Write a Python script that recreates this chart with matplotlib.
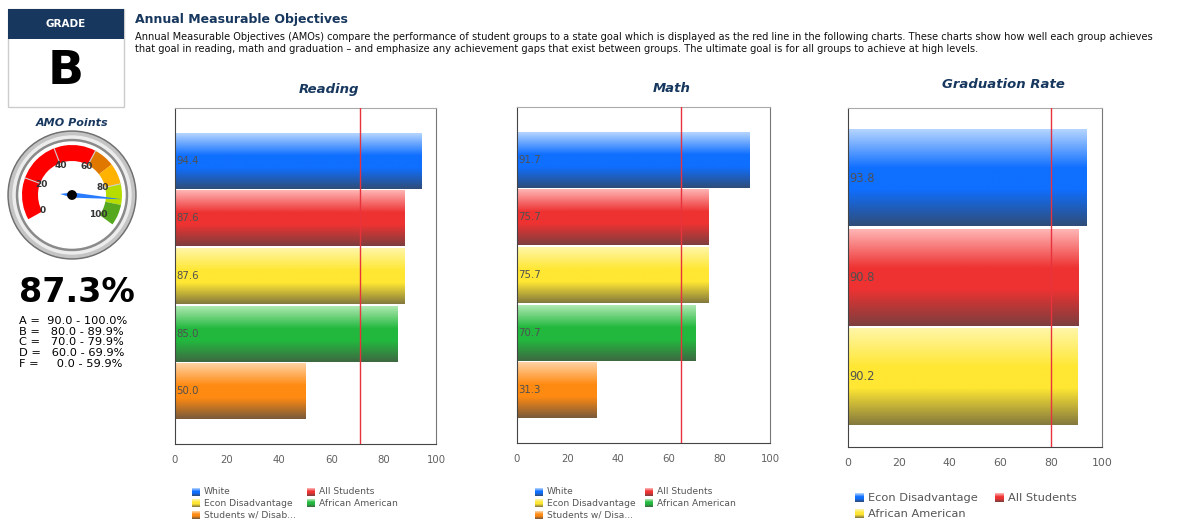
import matplotlib.pyplot as plt
import numpy as np
from matplotlib.patches import Rectangle, Circle, Wedge, Polygon
from matplotlib.colors import to_rgb

W, H = 1185, 521

# ---- data ----
reading_groups = ["White", "All Students", "Econ Disadvantage", "African American", "Students w/ Disab..."]
reading_values = [94.4, 87.6, 87.6, 85.0, 50.0]
reading_goal = 71

math_groups = ["White", "All Students", "Econ Disadvantage", "African American", "Students w/ Disa..."]
math_values = [91.7, 75.7, 75.7, 70.7, 31.3]
math_goal = 65

grad_groups = ["Econ Disadvantage", "All Students", "African American"]
grad_values = [93.8, 90.8, 90.2]
grad_goal = 80

x_ticks = [0, 20, 40, 60, 80, 100]

grade = "B"
amo_points = 87.3
grade_scale = ["A =  90.0 - 100.0%",
               "B =   80.0 - 89.9%",
               "C =   70.0 - 79.9%",
               "D =   60.0 - 69.9%",
               "F =     0.0 - 59.9%"]
gauge_bands = [0, 60, 70, 80, 90, 100]
gauge_band_colors = ["#ff0000", "#e07800", "#ffb300", "#b6dc00", "#56a81e"]
gauge_ticks = [0, 20, 40, 60, 80, 100]

# series colours (light top, base, dark bottom)
palette = [("#b4d4ff", "#0f6fff", "#2f4d7a"),
           ("#ffb4b4", "#ee3232", "#7e3e3e"),
           ("#fff6a6", "#ffe733", "#857a3e"),
           ("#aee8b0", "#22b83e", "#3e6a42"),
           ("#ffd2a2", "#ff8a12", "#7a5a3a")]

navy = "#17375e"
plt.rcParams['font.family'] = ['DejaVu Sans']

fig = plt.figure(figsize=(W / 100, H / 100), dpi=100)

# overlay axes in pixel units (y down)
bg = fig.add_axes([0, 0, 1, 1])
bg.set_xlim(0, W)
bg.set_ylim(H, 0)
bg.axis('off')


def px_axes(l, t, r, b):
    return fig.add_axes([l / W, 1 - b / H, (r - l) / W, (b - t) / H])


def gradient(light, base, dark, n=64):
    stops = [0.0, 0.4, 0.62, 1.0]
    cols = [to_rgb(light), to_rgb(base), to_rgb(base), to_rgb(dark)]
    t = np.linspace(0, 1, n)
    g = np.zeros((n, 1, 3))
    for k in range(3):
        g[:, 0, k] = np.interp(t, stops, [c[k] for c in cols])
    return g


def bar_chart(box, values, goal, pad, lab_size, tick_size):
    ax = px_axes(*box)
    n = len(values)
    pos = np.arange(n)[::-1]
    bars = ax.barh(pos, values, height=0.97, color=[p[1] for p in palette[:n]], linewidth=0)
    for bar, p, v in zip(bars, palette, values):
        x0, y0 = bar.get_x(), bar.get_y()
        w, h = bar.get_width(), bar.get_height()
        ax.imshow(gradient(*p), extent=[x0, x0 + w, y0, y0 + h], aspect='auto',
                  origin='upper', zorder=2)
        ax.text(0.6, y0 + h / 2, f"{v:.1f}", fontsize=lab_size, color="#505050",
                va='center', ha='left', zorder=3)
    ax.axvline(goal, color="#e8323c", lw=1, zorder=4)
    ax.set_xlim(0, 100)
    ax.set_ylim(-0.5 - pad, n - 0.5 + pad)
    ax.set_xticks(x_ticks)
    ax.set_yticks([])
    ax.tick_params(axis='x', length=0, pad=8, labelsize=tick_size, labelcolor="#606060")
    ax.spines['left'].set_color("#444444")
    ax.spines['bottom'].set_color("#444444")
    ax.spines['right'].set_color("#777777")
    ax.spines['top'].set_color("#aaaaaa")
    return ax


bar_chart((174.5, 108, 436, 444), reading_values, reading_goal, 0.41, 7.3, 7.3)
bar_chart((517, 107, 770, 443), math_values, math_goal, 0.41, 7.3, 7.3)
bar_chart((848, 108, 1102, 447), grad_values, grad_goal, 0.21, 8.3, 7.8)

bg.text(329, 89, "Reading", fontsize=9.5, fontweight='bold', fontstyle='italic', color=navy,
        ha='center', va='center')
bg.text(672, 89, "Math", fontsize=9.5, fontweight='bold', fontstyle='italic', color=navy,
        ha='center', va='center')
bg.text(1003, 85, "Graduation Rate", fontsize=9.5, fontweight='bold', fontstyle='italic', color=navy,
        ha='center', va='center')


def legend(groups, x1, x2, rows, sq, size):
    for i, g in enumerate(groups):
        x = x1 if i % 2 == 0 else x2
        y = rows[i // 2]
        light, base, dark = palette[i]
        bg.imshow(gradient(light, base, dark, 16), extent=[x, x + sq, y + sq / 2, y - sq / 2],
                  aspect='auto', origin='upper', zorder=3)
        bg.text(x + sq + 4, y, g, fontsize=size, color="#555555", va='center', ha='left')


legend(reading_groups, 192, 307, [492, 503.5, 515], 8, 6.6)
legend(math_groups, 535, 645, [492, 503.5, 515], 8, 6.6)
legend(grad_groups, 855, 995, [498, 514], 9, 8.2)

# ---- header text ----
bg.text(135, 19, "Annual Measurable Objectives", fontsize=9, fontweight='bold', color=navy,
        va='center', ha='left')
bg.text(135, 37, "Annual Measurable Objectives (AMOs) compare the performance of student groups to a state goal "
        "which is displayed as the red line in the following charts. These charts show how well each group achieves",
        fontsize=7.15, color="#111111", va='center', ha='left')
bg.text(135, 49, "that goal in reading, math and graduation \u2013 and emphasize any achievement gaps that exist "
        "between groups. The ultimate goal is for all groups to achieve at high levels.",
        fontsize=7.15, color="#111111", va='center', ha='left')

# ---- grade box ----
bg.add_patch(Rectangle((8, 9), 116, 98, facecolor='white', edgecolor="#cccccc", lw=1))
bg.add_patch(Rectangle((8, 9), 116, 30, facecolor=navy, edgecolor='none'))
bg.text(66, 24, "GRADE", fontsize=7.5, fontweight='bold', color='white', ha='center', va='center')
bg.text(66, 71, grade, fontsize=34, fontweight='heavy', color='black', ha='center', va='center')

bg.text(72, 123, "AMO Points", fontsize=8, fontweight='bold', fontstyle='italic', color=navy,
        ha='center', va='center')

bg.text(77, 292, f"{amo_points:.1f}%", fontsize=24, fontweight='bold', color='black',
        ha='center', va='center')
for i, line in enumerate(grade_scale):
    bg.text(19, 321 + i * 10.7, line, fontsize=8.2, color='black', ha='left', va='center')

# ---- gauge ----
ga = px_axes(7, 130, 137, 260)
ga.set_xlim(-65, 65)
ga.set_ylim(-65, 65)
ga.axis('off')


def ang(v):
    return 209 - 2.45 * v


ga.add_patch(Circle((0, 0), 64, color="#707070"))
ga.add_patch(Circle((0, 0), 62.5, color="#c4c4c4"))
ga.add_patch(Circle((0, 0), 59, color="#ececec"))
ga.add_patch(Circle((0, 0), 55.5, color="#8a8a8a"))
ga.add_patch(Circle((0, 0), 53, color="white"))
for v1, v2, c in zip(gauge_bands[:-1], gauge_bands[1:], gauge_band_colors):
    ga.add_patch(Wedge((0, 0), 50, ang(v2), ang(v1), width=16, color=c, lw=0))
for v in gauge_ticks[1:-1]:
    a = np.radians(ang(v))
    ga.plot([34 * np.cos(a), 50 * np.cos(a)], [34 * np.sin(a), 50 * np.sin(a)], color="#d0d0d0", lw=0.8)
for v in gauge_ticks:
    a = np.radians(ang(v))
    r = 33 if v in (0, 100) else 32
    ga.text(r * np.cos(a), r * np.sin(a), str(v), fontsize=6.5, fontweight='bold', color="#333333",
            ha='center', va='center')
a = np.radians(ang(amo_points))
u = np.array([np.cos(a), np.sin(a)])
nrm = np.array([-u[1], u[0]])
ga.add_patch(Polygon([u * 50, nrm * 2.6, -u * 12, -nrm * 2.6], closed=True, color="#2a7cff", lw=0))
ga.add_patch(Circle((0, 0), 4.2, color='black'))

bg.set_xlim(0, W)
bg.set_ylim(H, 0)

fig.savefig("out.png", dpi=100)
